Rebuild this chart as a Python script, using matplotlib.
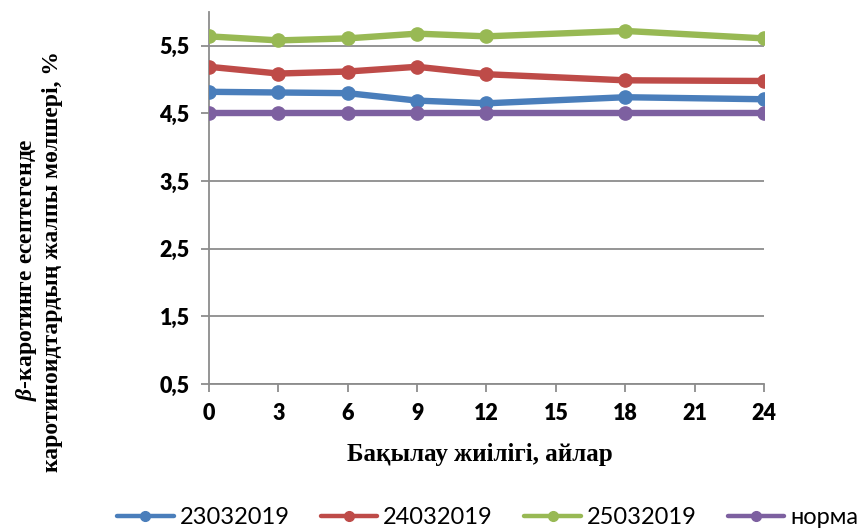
import matplotlib
matplotlib.use("Agg")
import matplotlib.pyplot as plt
from matplotlib.lines import Line2D
from matplotlib.font_manager import FontProperties

# Observation months and carotenoid content (%) for each batch
months = [0, 3, 6, 9, 12, 18, 24]
batch_23032019 = [4.82, 4.81, 4.80, 4.69, 4.65, 4.74, 4.71]
batch_24032019 = [5.19, 5.09, 5.12, 5.19, 5.08, 4.99, 4.98]
batch_25032019 = [5.64, 5.58, 5.61, 5.68, 5.64, 5.72, 5.61]
norm = [4.5, 4.5, 4.5, 4.5, 4.5, 4.5, 4.5]

series_names = ["23032019", "24032019", "25032019", "норма"]
x_ticks = [0, 3, 6, 9, 12, 15, 18, 21, 24]
y_ticks = [0.5, 1.5, 2.5, 3.5, 4.5, 5.5]
y_tick_labels = ["0,5", "1,5", "2,5", "3,5", "4,5", "5,5"]

colors = ["#4A7EBB", "#BE4B48", "#98B954", "#7D60A0"]

plt.rcParams["mathtext.fontset"] = "custom"
plt.rcParams["mathtext.it"] = "Liberation Serif:italic:bold"
plt.rcParams["mathtext.rm"] = "Liberation Serif:bold"

fig = plt.figure(figsize=(8.62, 5.28), dpi=100)
ax = fig.add_axes([209 / 862, 1 - 384 / 528, (764 - 209) / 862, (384 - 12) / 528])

all_series = [batch_23032019, batch_24032019, batch_25032019, norm]
for vals, c in zip(all_series, colors):
    ax.plot(months, vals, color=c, lw=4.6, marker="o", markersize=9.5,
            solid_capstyle="round", zorder=3)

tick_font = FontProperties(family="Lato", weight=800, size=15.5)

ax.set_xlim(0, 24)
ax.set_ylim(0.5, 6.0)
ax.set_xticks(x_ticks)
ax.set_xticklabels([str(t) for t in x_ticks], fontproperties=tick_font)
ax.set_yticks(y_ticks)
ax.set_yticklabels(y_tick_labels, fontproperties=tick_font)
ax.yaxis.grid(True, color="#8C8C8C", lw=1.3)
ax.set_axisbelow(True)

for side in ["top", "right"]:
    ax.spines[side].set_visible(False)
for side in ["left", "bottom"]:
    ax.spines[side].set_color("#8C8C8C")
    ax.spines[side].set_linewidth(1.3)

ax.tick_params(axis="both", direction="out", length=6, width=1.3, color="#8C8C8C",
               pad=8)

fig.text(480 / 862, 1 - 455 / 528, "Бақылау жиілігі, айлар", ha="center", va="center",
         fontsize=18, fontweight="bold", family="Liberation Serif")

fig.text(27 / 862, 1 - 270 / 528, r"$\beta$-каротинге есептегенде", rotation=90,
         ha="center", va="center", fontsize=17, fontweight="bold",
         family="Liberation Serif")
fig.text(53 / 862, 1 - 262 / 528, "каротиноидтардың жалпы мөлшері, %", rotation=90,
         ha="center", va="center", fontsize=17, fontweight="bold",
         family="Liberation Serif")

handles = [Line2D([], [], color=c, lw=3.2, marker="o", markersize=7,
                  solid_capstyle="round") for c in colors]
fig.legend(handles, series_names, loc="center left",
           bbox_to_anchor=(117 / 862, 1 - 518 / 528), ncol=4, frameon=False,
           prop={"family": "Lato", "size": 17}, handlelength=2.4,
           handletextpad=0.25, columnspacing=1.32, borderaxespad=0, borderpad=0)

fig.savefig("out.png", dpi=100)
